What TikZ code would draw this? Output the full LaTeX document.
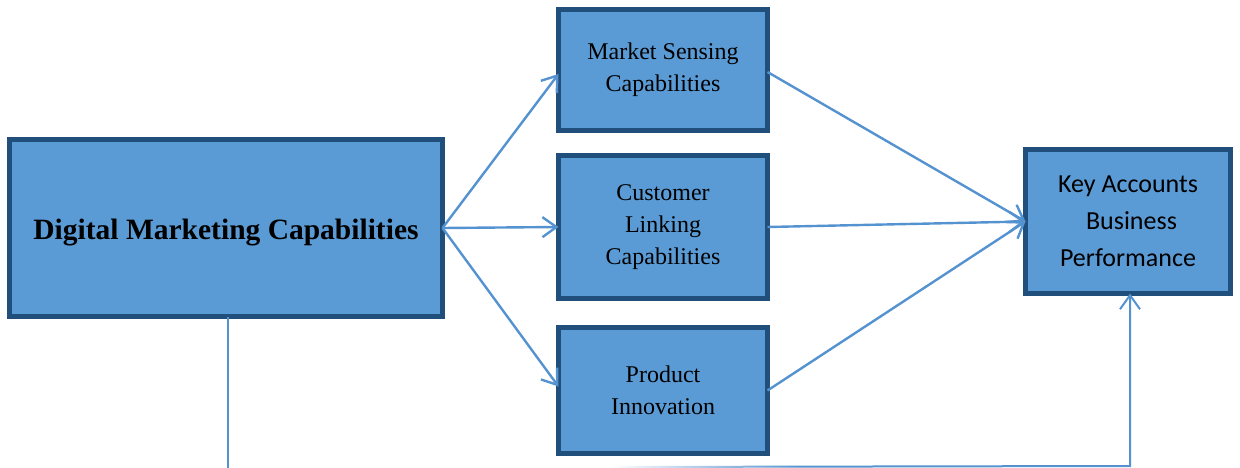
\documentclass[tikz,border=0pt]{standalone}
\usepackage{fontspec}
\setmainfont{Liberation Serif}
\newfontfamily\calibrilike{Carlito}
\usetikzlibrary{arrows.meta,calc,fadings}

\definecolor{boxfill}{RGB}{91,155,213}
\definecolor{boxedge}{RGB}{33,79,124}
\definecolor{linkcol}{RGB}{84,146,208}

% white overlay that is solid on the left and clear on the right
\tikzfading[name=fadetoright, left color=transparent!0, right color=transparent!100]

\begin{document}
\begin{tikzpicture}[x=1pt, y=-1pt,
  block/.style={draw=boxedge, fill=boxfill, line width=5pt, inner sep=0pt,
    outer sep=0pt, align=center, text=black},
  serifbox/.style={block, font=\fontsize{24}{32}\selectfont},
  link/.style={draw=linkcol, line width=2.4pt,
    -{Straight Barb[length=14pt, width=20pt]}},
  plainlink/.style={draw=linkcol, line width=2pt}
]
\useasboundingbox (0,0) rectangle (1240,468);

% boxes
\node[block, minimum width=433pt, minimum height=177pt,
      font=\fontsize{29.5}{35}\selectfont\bfseries] (dmc) at (226,228)
      {\raisebox{-11pt}[0pt][0pt]{Digital Marketing Capabilities}};
\node[serifbox, minimum width=209pt, minimum height=121pt] (ms) at (663,70)
      {Market Sensing\\Capabilities};
\node[serifbox, minimum width=209pt, minimum height=143pt] (cl) at (663,227)
      {Customer\\Linking\\Capabilities};
\node[serifbox, minimum width=209pt, minimum height=126pt] (pi) at (663,390.5)
      {Product\\Innovation};
\node[block, minimum width=205pt, minimum height=144pt,
      font=\calibrilike\fontsize{26}{37}\selectfont] (ka) at (1128,221.5)
      {Key Accounts\\\hspace{7pt}Business\\Performance};

% links from the digital capabilities box
\draw[link] (dmc.east) -- ($(ms.west)+(0,4)$);
\draw[link] (dmc.east) -- (cl.west);
\draw[link] (dmc.east) -- ($(pi.west)+(0,-4)$);

% links into business performance
\draw[link] ($(ms.east)+(0,2)$) -- (ka.west);
\draw[link] (cl.east) -- (ka.west);
\draw[link] (pi.east) -- (ka.west);

% direct path along the bottom
\coordinate (drop) at (228,470);
\draw[draw=linkcol, line width=1.6pt] (dmc.south -| drop) -- (drop);

\coordinate (runstart) at (612,467);
\coordinate (runcorner) at (1130,466);
\draw[plainlink, -{Straight Barb[length=14pt, width=20pt]}]
  (runstart) -- (runcorner) -- (runcorner |- ka.south);
\fill[white, path fading=fadetoright] (612,463) rectangle (800,470);
\end{tikzpicture}
\end{document}
